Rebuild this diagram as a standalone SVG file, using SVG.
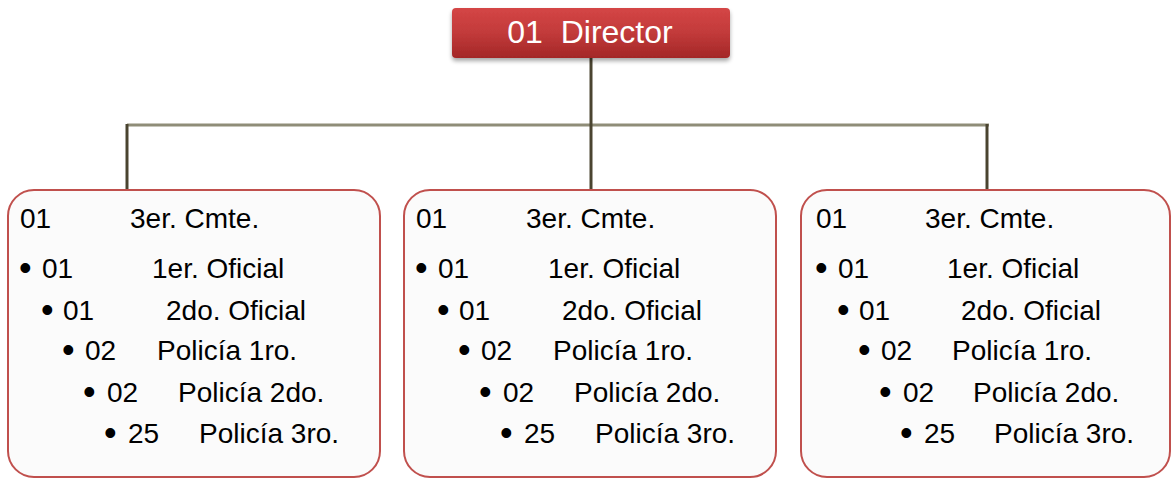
<svg xmlns="http://www.w3.org/2000/svg" width="1172" height="478" viewBox="0 0 1172 478">
<defs>
<linearGradient id="red" x1="0" y1="0" x2="0" y2="1">
<stop offset="0" stop-color="#d44646"/>
<stop offset="0.5" stop-color="#c23a3a"/>
<stop offset="1" stop-color="#a32727"/>
</linearGradient>
<filter id="sh" x="-10%" y="-20%" width="120%" height="160%">
<feGaussianBlur in="SourceAlpha" stdDeviation="2"/>
<feOffset dx="0" dy="3" result="b"/>
<feComponentTransfer><feFuncA type="linear" slope="0.35"/></feComponentTransfer>
<feMerge><feMergeNode/><feMergeNode in="SourceGraphic"/></feMerge>
</filter>
</defs>
<style>
.box{fill:#fbfbfb;stroke:#c0504d;stroke-width:2}
.t{font-family:"Liberation Sans",Arial,sans-serif;font-size:28px;fill:#000}
.b{font-family:"Liberation Sans",Arial,sans-serif;font-size:36px;fill:#000}
.h{stroke:#8f8d78;stroke-width:3;fill:none}
.v{stroke:#4a4430;stroke-width:3;fill:none}
</style>
<rect width="1172" height="478" fill="#ffffff"/>
<g id="connectors">
<line class="h" x1="127" y1="125" x2="989" y2="125"/>
<line class="v" x1="591" y1="58" x2="591" y2="190"/>
<line class="v" x1="127" y1="124" x2="127" y2="190"/>
<line class="v" x1="987" y1="124" x2="987" y2="190"/>
</g>
<g id="director">
<rect x="452" y="8" width="278" height="50" rx="4" fill="url(#red)" filter="url(#sh)"/>
<text x="590" y="43" text-anchor="middle" font-family="'Liberation Sans',Arial,sans-serif" font-size="32" fill="#ffffff" xml:space="preserve">01  Director</text>
</g>
<g id="unit1">
<rect class="box" x="8" y="190" width="372" height="287" rx="26"/>
<text class="t" x="20" y="228">01</text><text class="t" x="130" y="228">3er. Cmte.</text>
<text class="b" x="19" y="280">•</text><text class="t" x="42" y="278">01</text><text class="t" x="152" y="278">1er. Oficial</text>
<text class="b" x="41" y="322">•</text><text class="t" x="63" y="320">01</text><text class="t" x="166" y="320">2do. Oficial</text>
<text class="b" x="62" y="362">•</text><text class="t" x="85" y="360">02</text><text class="t" x="157" y="360">Policía 1ro.</text>
<text class="b" x="83" y="404">•</text><text class="t" x="107" y="402">02</text><text class="t" x="178" y="402">Policía 2do.</text>
<text class="b" x="104" y="445">•</text><text class="t" x="128" y="443">25</text><text class="t" x="199" y="443">Policía 3ro.</text>
</g>
<g id="unit2" transform="translate(396,0)">
<rect class="box" x="8" y="190" width="372" height="287" rx="26"/>
<text class="t" x="20" y="228">01</text><text class="t" x="130" y="228">3er. Cmte.</text>
<text class="b" x="19" y="280">•</text><text class="t" x="42" y="278">01</text><text class="t" x="152" y="278">1er. Oficial</text>
<text class="b" x="41" y="322">•</text><text class="t" x="63" y="320">01</text><text class="t" x="166" y="320">2do. Oficial</text>
<text class="b" x="62" y="362">•</text><text class="t" x="85" y="360">02</text><text class="t" x="157" y="360">Policía 1ro.</text>
<text class="b" x="83" y="404">•</text><text class="t" x="107" y="402">02</text><text class="t" x="178" y="402">Policía 2do.</text>
<text class="b" x="104" y="445">•</text><text class="t" x="128" y="443">25</text><text class="t" x="199" y="443">Policía 3ro.</text>
</g>
<g id="unit3" transform="translate(793,0)">
<rect class="box" x="8" y="190" width="369" height="287" rx="26"/>
<text class="t" x="23" y="228">01</text><text class="t" x="132" y="228">3er. Cmte.</text>
<text class="b" x="22" y="280">•</text><text class="t" x="45" y="278">01</text><text class="t" x="154" y="278">1er. Oficial</text>
<text class="b" x="44" y="322">•</text><text class="t" x="66" y="320">01</text><text class="t" x="168" y="320">2do. Oficial</text>
<text class="b" x="65" y="362">•</text><text class="t" x="88" y="360">02</text><text class="t" x="159" y="360">Policía 1ro.</text>
<text class="b" x="86" y="404">•</text><text class="t" x="110" y="402">02</text><text class="t" x="180" y="402">Policía 2do.</text>
<text class="b" x="107" y="445">•</text><text class="t" x="131" y="443">25</text><text class="t" x="201" y="443">Policía 3ro.</text>
</g>
</svg>
